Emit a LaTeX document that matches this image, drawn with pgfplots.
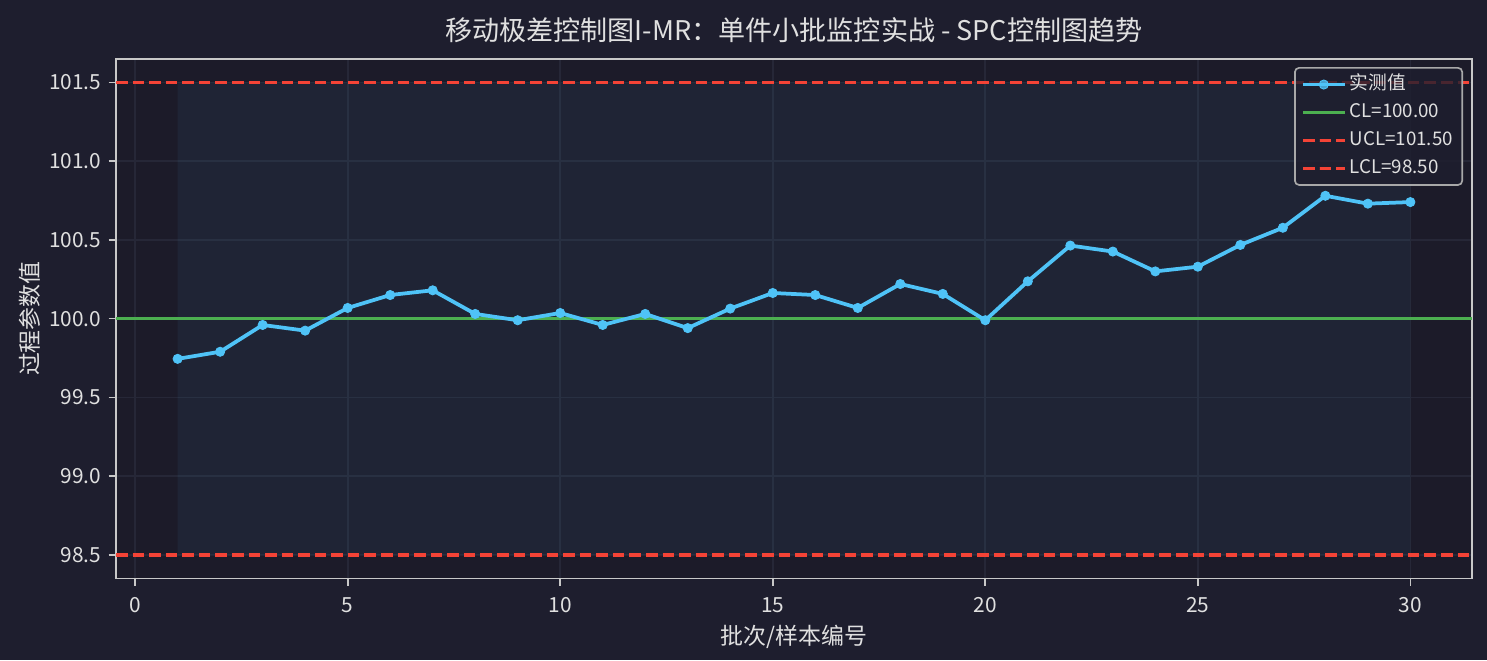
\documentclass[border=0pt]{standalone}
\usepackage{pgfplots}
\usepackage{pgfplotstable}
\pgfplotsset{compat=1.18}
\usepackage{fontspec}
\setmainfont{Noto Sans CJK SC}

\definecolor{figbg}{HTML}{1E1E2E}
\definecolor{axbg}{HTML}{1C1B29}
\definecolor{gridc}{HTML}{262737}
\definecolor{spine}{HTML}{C8C8C8}
\definecolor{textc}{HTML}{E0E0E0}
\definecolor{lineblue}{HTML}{4FC3F7}
\definecolor{clgreen}{HTML}{4CAF50}
\definecolor{limred}{HTML}{F44336}
\definecolor{legborder}{HTML}{A8A8A8}

% measured values (batch, value)
\pgfplotstableread{
x y
1 99.745
2 99.79
3 99.96
4 99.924
5 100.068
6 100.15
7 100.18
8 100.03
9 99.99
10 100.036
11 99.96
12 100.03
13 99.94
14 100.064
15 100.163
16 100.15
17 100.068
18 100.22
19 100.157
20 99.99
21 100.237
22 100.464
23 100.426
24 100.30
25 100.33
26 100.468
27 100.577
28 100.78
29 100.73
30 100.74
}\measured

\begin{document}
\begin{tikzpicture}
\fill[figbg] (0,0) rectangle (713.76pt,316.8pt);
\path[use as bounding box] (0,0) rectangle (713.76pt,316.8pt);
\begin{axis}[
  at={(55.68pt,39.07pt)}, anchor=south west,
  scale only axis, width=650.88pt, height=249.55pt,
  xmin=-0.45, xmax=31.45, ymin=98.35, ymax=101.65,
  axis background/.style={fill=axbg},
  axis line style={spine, line width=0.8pt},
  xtick={0,5,10,15,20,25,30},
  ytick={98.5,99,99.5,100,100.5,101,101.5},
  yticklabel={\pgfmathprintnumber[fixed,fixed zerofill,precision=1]{\tick}},
  /pgf/number format/assume math mode=true,
  tick pos=left, tick align=outside,
  major tick length=3.5pt,
  tick style={spine, line width=0.8pt},
  ticklabel style={font=\fontsize{10}{12}\selectfont, text=textc},
  xticklabel style={yshift=-2pt},
  grid=major, grid style={gridc, line width=0.8pt},
  title={移动极差控制图I-MR：单件小批监控实战 - SPC控制图趋势},
  title style={at={(axis description cs:0.5,1.0313)}, anchor=center,
    font=\fontsize{13}{15}\selectfont, text=textc},
  xlabel={批次/样本编号},
  xlabel style={at={(axis description cs:0.5,-0.112)}, anchor=center,
    font=\fontsize{11}{13}\selectfont, text=textc},
  ylabel={过程参数值},
  ylabel style={at={(axis description cs:-0.0635,0.5)}, anchor=center,
    font=\fontsize{11}{13}\selectfont, text=textc},
  legend style={at={(1,1)}, anchor=north east, xshift=-4.3pt, yshift=-4pt,
    fill=figbg, fill opacity=0.8, text opacity=1, draw=legborder,
    line width=0.8pt, rounded corners=2pt, text=textc,
    font=\fontsize{9}{11}\selectfont, row sep=1.4pt,
    nodes={inner sep=1.5pt, text height=7pt, text depth=2pt},
    cells={anchor=west}},
  legend image code/.code={\draw[mark repeat=2,mark phase=2]
    plot coordinates {(0cm,0cm)(0.35cm,0cm)(0.7cm,0cm)};},
]
% control band between LCL and UCL
\addplot[draw=none, fill=lineblue, fill opacity=0.06, forget plot]
  coordinates {(1,98.5)(30,98.5)(30,101.5)(1,101.5)(1,98.5)};
\addplot[clgreen, line width=1.5pt, forget plot]
  coordinates {(-0.45,100)(31.45,100)};
\addplot[limred, line width=1.5pt, dash pattern=on 5.55pt off 2.4pt, forget plot]
  coordinates {(-0.45,101.5)(31.45,101.5)};
\addplot[limred, line width=1.5pt, dash pattern=on 5.55pt off 2.4pt, forget plot]
  coordinates {(-0.45,98.5)(31.45,98.5)};
\addplot[lineblue, line width=1.8pt, mark=*, mark size=2.2pt,
  mark options={solid, fill=lineblue, draw=lineblue, line width=0.4pt}]
  table[x=x, y=y] {\measured};
\addlegendentry{实测值}
\addlegendimage{clgreen, line width=1.5pt}
\addlegendentry{CL=100.00}
\addlegendimage{limred, line width=1.5pt, dash pattern=on 5.55pt off 2.4pt}
\addlegendentry{UCL=101.50}
\addlegendimage{limred, line width=1.5pt, dash pattern=on 5.55pt off 2.4pt}
\addlegendentry{LCL=98.50}
\end{axis}
\end{tikzpicture}
\end{document}
